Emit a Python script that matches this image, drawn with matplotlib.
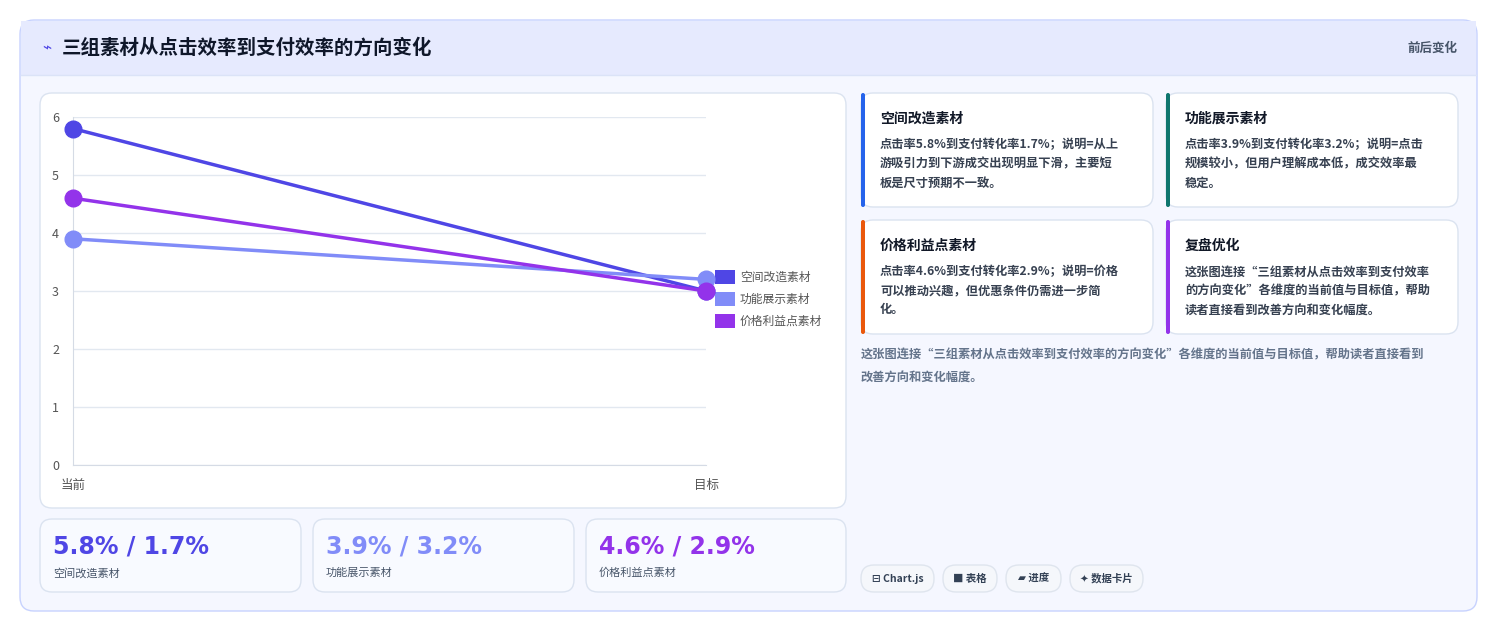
import matplotlib.pyplot as plt
from matplotlib.patches import FancyBboxPatch, Rectangle

plt.rcParams['font.family'] = ['Noto Sans CJK SC', 'DejaVu Sans']

# 数据
stages = ['当前', '目标']
series_names = ['空间改造素材', '功能展示素材', '价格利益点素材']
series_values = [[5.8, 3.0], [3.9, 3.2], [4.6, 3.0]]
series_colors = ['#4f46e5', '#818cf8', '#9333ea']
y_ticks = [0, 1, 2, 3, 4, 5, 6]
kpi_texts = ['5.8% / 1.7%', '3.9% / 3.2%', '4.6% / 2.9%']
card_titles = ['空间改造素材', '功能展示素材', '价格利益点素材', '复盘优化']
card_bodies = [
    ['点击率5.8%到支付转化率1.7%；说明=从上', '游吸引力到下游成交出现明显下滑，主要短', '板是尺寸预期不一致。'],
    ['点击率3.9%到支付转化率3.2%；说明=点击', '规模较小，但用户理解成本低，成交效率最', '稳定。'],
    ['点击率4.6%到支付转化率2.9%；说明=价格', '可以推动兴趣，但优惠条件仍需进一步简', '化。'],
    ['这张图连接“三组素材从点击效率到支付效率', '的方向变化”各维度的当前值与目标值，帮助', '读者直接看到改善方向和变化幅度。'],
]
card_colors = ['#2563eb', '#0f766e', '#ea580c', '#9333ea']
chips = ['⊟ Chart.js', '■ 表格', '▰ 进度', '✦ 数据卡片']

W, H = 1498, 632
fig = plt.figure(figsize=(W / 100, H / 100), dpi=100)
bg = fig.add_axes([0, 0, 1, 1])
bg.set_xlim(0, W)
bg.set_ylim(H, 0)
bg.axis('off')


def box(x0, y0, x1, y1, fc='white', ec='#dbe3f0', r=12, lw=1, z=1):
    bg.add_patch(FancyBboxPatch((x0, y0), x1 - x0, y1 - y0,
                                boxstyle=f'round,pad=0,rounding_size={r}',
                                fc=fc, ec=ec, lw=lw, zorder=z))


# 外框与标题栏
box(20, 20, 1477, 611, fc='#f5f7ff', ec='#c7d2fe', r=14)
bg.add_patch(Rectangle((21, 21), 1455, 54, fc='#e6eafe', ec='none', zorder=1.5))
bg.plot([21, 1476], [75, 75], color='#dbe3f7', lw=1, zorder=1.6)
bg.text(42, 48, '⌁', color='#4f46e5', fontsize=11, va='center', zorder=3)
bg.text(62, 48, '三组素材从点击效率到支付效率的方向变化', fontsize=14,
        fontweight='bold', color='#0f172a', va='center', zorder=3)
bg.text(1457, 48, '前后变化', fontsize=9, fontweight='bold', color='#475569',
        va='center', ha='right', zorder=3)

# 图表面板
box(40, 93, 846, 508)
ax = fig.add_axes([73 / W, (H - 465) / H, 633 / W, 348 / H])
ax.set_facecolor('none')
for vals, c in zip(series_values, series_colors):
    ax.plot([0, 1], vals, color=c, lw=2.5, marker='o', markersize=12, clip_on=False, zorder=3)
ax.set_xlim(0, 1)
ax.set_ylim(0, 6)
ax.set_yticks(y_ticks)
ax.set_xticks([0, 1])
ax.set_xticklabels(stages)
ax.grid(axis='y', color='#e2e8f0', lw=1)
ax.tick_params(length=0, labelsize=9, colors='#555')
ax.tick_params(axis='y', pad=10)
ax.tick_params(axis='x', pad=10)
for s in ['top', 'right']:
    ax.spines[s].set_visible(False)
for s in ['left', 'bottom']:
    ax.spines[s].set_color('#d5dbe5')

# 图例
for i, (name, c) in enumerate(zip(series_names, series_colors)):
    y = 277 + i * 22
    bg.add_patch(Rectangle((715, y - 7), 20, 14, fc=c, ec='none', zorder=3))
    bg.text(740, y, name, fontsize=8.5, color='#555', va='center', zorder=3)

# KPI 卡片
kpi_x = [(40, 301), (313, 574), (586, 846)]
for (x0, x1), t, name, c in zip(kpi_x, kpi_texts, series_names, series_colors):
    box(x0, 519, x1, 592, fc='#f8faff')
    bg.text(x0 + 13, 546, t, fontsize=17, fontweight='bold', color=c, va='center',
            family='DejaVu Sans', zorder=3)
    bg.text(x0 + 13, 573, name, fontsize=8, color='#475569', va='center', zorder=3)

# 说明卡片
pos = [(861, 93), (1166, 93), (861, 220), (1166, 220)]
for (x0, y0), title, body, c in zip(pos, card_titles, card_bodies, card_colors):
    box(x0, y0, x0 + 292, y0 + 114)
    bg.add_patch(FancyBboxPatch((x0, y0), 4, 114, boxstyle='round,pad=0,rounding_size=2',
                                fc=c, ec='none', zorder=2))
    bg.text(x0 + 19, y0 + 26, title, fontsize=10, fontweight='bold', color='#111827',
            va='center', zorder=3)
    for j, line in enumerate(body):
        bg.text(x0 + 19, y0 + 52 + j * 19, line, fontsize=8.8, fontweight='bold',
                color='#374151', va='center', zorder=3)

bg.text(861, 355, '这张图连接“三组素材从点击效率到支付效率的方向变化”各维度的当前值与目标值，帮助读者直接看到',
        fontsize=8.8, color='#64748b', fontweight='bold', va='center')
bg.text(861, 377, '改善方向和变化幅度。', fontsize=8.8, color='#64748b', fontweight='bold', va='center')

# 标签
chip_x = [(861, 934), (943, 997), (1006, 1061), (1070, 1143)]
for (x0, x1), t in zip(chip_x, chips):
    box(x0, 565, x1, 592, fc='#f5f7fb', ec='#dfe5ee', r=13)
    bg.text((x0 + x1) / 2, 578.5, t, fontsize=7.5, fontweight='bold', color='#334155',
            ha='center', va='center', zorder=3)

fig.savefig('out.png', dpi=100)
